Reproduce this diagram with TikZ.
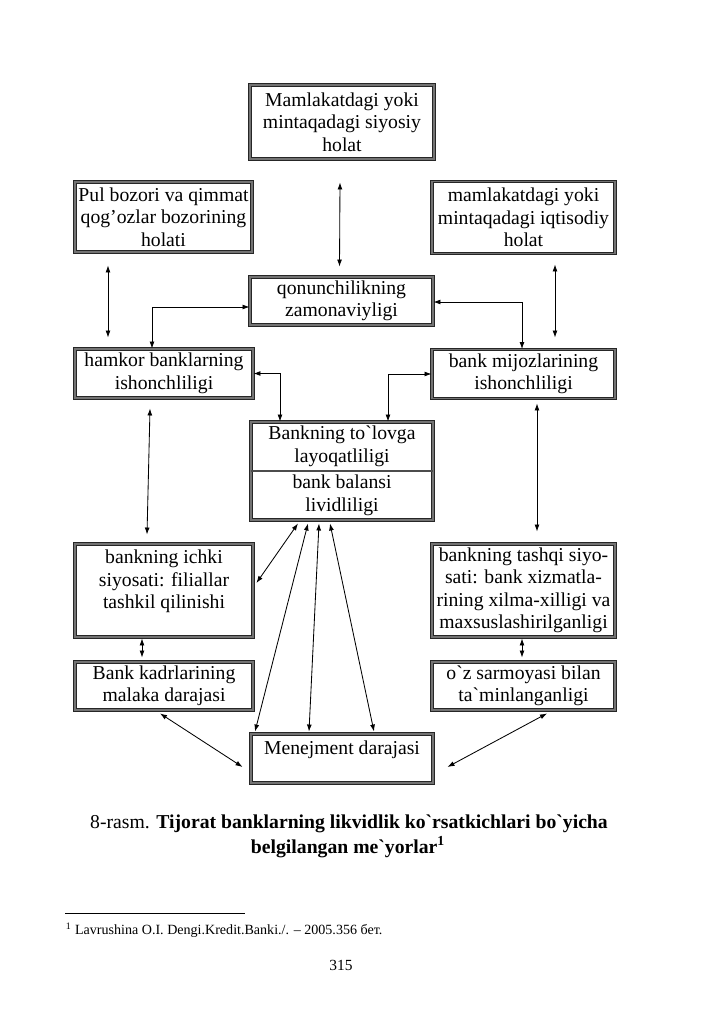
\documentclass[tikz,border=0pt]{standalone}
\usepackage{fontspec}
\setmainfont{Liberation Serif}
\usetikzlibrary{arrows.meta,calc}

\begin{document}
\begin{tikzpicture}[x=0.025cm, y=-0.025cm,
  every node/.style={font=\fontsize{14}{16}\selectfont, align=center},
  box/.style={draw=black!85, line width=0.6pt, double=black!55, double distance=1.1pt, inner sep=2pt},
  link/.style={{Latex[length=5pt,width=3.5pt]}-{Latex[length=5pt,width=3.5pt]}, line width=0.6pt}]
\useasboundingbox (0,0) rectangle (725,1024);

% boxes
\node[box, minimum width=4.6cm, minimum height=1.85cm] (pol) at (342,122) {Mamlakatdagi yoki\\mintaqadagi siyosiy\\holat};
\node[box, minimum width=4.425cm, minimum height=1.75cm] (mkt) at (163.5,217) {Pul bozori va qimmat\\qog’ozlar bozorining\\holati};
\node[box, minimum width=4.575cm, minimum height=1.8cm] (eco) at (523.5,217.5) {mamlakatdagi yoki\\mintaqadagi iqtisodiy\\holat};
\node[box, minimum width=4.575cm, minimum height=1.2cm] (law) at (341.5,301) {qonunchilikning\\zamonaviyligi};
\node[box, minimum width=4.45cm, minimum height=1.225cm] (ptn) at (164,373.5) {hamkor banklarning\\ishonchliligi};
\node[box, minimum width=4.575cm, minimum height=1.225cm] (cli) at (523.5,374) {bank mijozlarining\\ishonchliligi};
\node[box, minimum width=4.55cm, minimum height=2.45cm] (liq) at (342,471) {};
\node (solv) at (342,446.5) {Bankning to\textasciigrave lovga\\layoqatliligi};
\node (bal) at (342,495.5) {bank balansi\\lividliligi};
\draw[line width=1.2pt, black!70] (liq.west) -- (liq.east); % divider
\node[box, minimum width=4.45cm, minimum height=2.325cm] (int) at (164,590.5) {bankning ichki\\siyosati: filiallar\\tashkil qilinishi\\~};
\node[box, minimum width=4.575cm, minimum height=2.325cm] (ext) at (523.5,590.5) {bankning tashqi siyo-\\sati: bank xizmatla-\\rining xilma-xilligi va\\maxsuslashirilganligi};
\node[box, minimum width=4.45cm, minimum height=1.2cm] (staff) at (164,686) {Bank kadrlarining\\malaka darajasi};
\node[box, minimum width=4.575cm, minimum height=1.2cm] (own) at (523.5,686) {o\textasciigrave z sarmoyasi bilan\\ta\textasciigrave minlanganligi};
\node[box, minimum width=4.55cm, minimum height=1.225cm] (mgt) at (342,758.5) {Menejment darajasi\\~};

% connectors
\draw[link] ($(pol.south)+(-2,23)$) -- ($(law.north)+(-2,-10)$);
\draw[link] ($(mkt.south)+(-55.5,13)$) -- ($(ptn.north)+(-56,-11)$);
\draw[link] ($(eco.south)+(31.5,10.5)$) -- ($(cli.north)+(31.5,-11.5)$);
\draw[link] ($(ptn.north)+(-12,0)$) |- ($(law.west)+(0,6)$);
\draw[link] ($(law.east)+(0,1)$) -| ($(cli.north)+(-1.5,0)$);
\draw[link] (ptn.east) -| ($(liq.north)+(-62,0)$);
\draw[link] (cli.west) -| ($(liq.north)+(46,0)$);
\draw[link] ($(ptn.south)+(-14,10)$) -- ($(int.north)+(-17,-9)$);
\draw[link] ($(cli.south)+(13.5,4.5)$) -- ($(ext.north)+(13.5,-12)$);
\draw[link] ($(int.south)+(-22,1)$) -- ($(staff.north)+(-22,-4)$);
\draw[link] ($(ext.south)+(-1.5,1)$) -- ($(own.north)+(-1.5,-4)$);
\draw[link] ($(liq.south)+(-44,3)$) -- ($(int.east)+(3,-7.5)$);
\draw[link] ($(liq.south)+(-34,3)$) -- ($(mgt.north)+(-87,-2)$);
\draw[link] ($(liq.south)+(-23,3)$) -- ($(mgt.north)+(-33,-2)$);
\draw[link] ($(liq.south)+(-12,3)$) -- ($(mgt.north)+(32,-2)$);
\draw[link] ($(staff.south)+(-4,3)$) -- ($(mgt.west)+(-8,8.5)$);
\draw[link] ($(own.south)+(23.5,3)$) -- ($(mgt.east)+(14,8.5)$);

% caption and footnote
\node (title1) at (349,824) {8-rasm. \textbf{Tijorat banklarning likvidlik ko\textasciigrave rsatkichlari bo\textasciigrave yicha}};
\node (title2) at (348,847) {\textbf{belgilangan me\textasciigrave yorlar\textsuperscript{1}}};
\draw[line width=0.5pt] (65,913) -- (245,913);
\node[anchor=west, font=\fontsize{10}{12}\selectfont] (fn) at (61,930) {\textsuperscript{1} Lavrushina O.I. Dengi.Kredit.Banki./. -- 2005.356 бет.};
\node[font=\fontsize{11}{13}\selectfont] (pg) at (341,965) {315};
\end{tikzpicture}
\end{document}
